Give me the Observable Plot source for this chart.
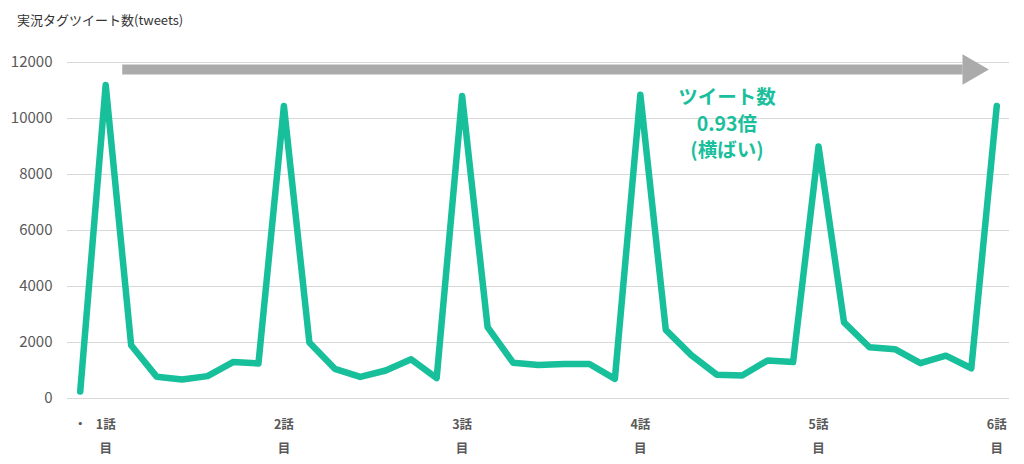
<!DOCTYPE html>
<html>
<head>
<meta charset="utf-8">
<script src="https://cdn.jsdelivr.net/npm/d3@7"></script>
<script src="https://cdn.jsdelivr.net/npm/@observablehq/plot@0.6"></script>
<style>
  body { margin: 0; background: #fff; font-family: "Noto Sans CJK JP", "Noto Sans", sans-serif; }
  #title { height: 40px; line-height: 40px; padding-left: 17px; font-size: 13px; color: #333; }
  #chart svg { display: block; }
</style>
</head>
<body>
<div id="title">実況タグツイート数(tweets)</div>
<div id="chart"></div>
<script>
// daily tweet counts (index 0 = day before episode 1)
const days = d3.range(37);
const tweets = [
  250, 11200, 1900, 780, 680, 800, 1300, 1250,
  10450, 2000, 1060, 770, 1000, 1400, 730,
  10800, 2550, 1280, 1200, 1230, 1230, 700,
  10850, 2450, 1550, 850, 820, 1360, 1300,
  9000, 2720, 1830, 1760, 1260, 1530, 1080,
  10450
];
const tickDays = [0, 1, 8, 15, 22, 29, 36];
const tickLabels = ["・", "1話\n目", "2話\n目", "3話\n目", "4話\n目", "5話\n目", "6話\n目"];
const yTicks = [0, 2000, 4000, 6000, 8000, 10000, 12000];
const arrowStart = [1.65];
const arrowEnd = [34.66];
const arrowHead = [35.0];
const arrowLevel = 11750;
const noteLines = ["ツイート数", "0.93倍", "(横ばい)"];
const noteDay = 25.4;
const noteLevels = [10740, 9790, 8850];

const data = days.map((d, i) => ({day: d, tweets: tweets[i]}));
const labelOf = new Map(tickDays.map((d, i) => [d, tickLabels[i]]));

const chart = Plot.plot({
  width: 1024,
  height: 424,
  marginLeft: 67,
  marginRight: 15,
  marginTop: 22,
  marginBottom: 66,
  style: {fontFamily: '"Noto Sans CJK JP", "Noto Sans", sans-serif', background: "#fff"},
  x: {domain: [-0.5, 36.5], axis: null},
  y: {domain: [0, 12000], axis: null},
  marks: [
    Plot.gridY(yTicks, {stroke: "#d9d9d9", strokeOpacity: 1, strokeWidth: 1}),
    Plot.axisY(yTicks, {tickSize: 0, tickPadding: 15, fontSize: 15, fill: "#595959", label: null, tickFormat: d => String(d)}),
    Plot.axisX(tickDays, {tickSize: 0, tickPadding: 13, fontSize: 12.5, fontWeight: "bold", fill: "#595959", lineHeight: 1.95, label: null, tickFormat: d => labelOf.get(d)}),
    Plot.link(arrowStart, {x1: d => d, x2: (d, i) => arrowEnd[i], y1: arrowLevel, y2: arrowLevel, stroke: "#ababab", strokeWidth: 10}),
    Plot.dot(arrowHead, {x: d => d, y: arrowLevel, symbol: "triangle", r: 11.3, rotate: 90, fill: "#ababab", stroke: "none"}),
    Plot.line(data, {x: "day", y: "tweets", stroke: "#17bf9b", strokeWidth: 6.5, strokeLinejoin: "round", strokeLinecap: "round"}),
    Plot.text(noteLines, {x: noteDay, y: (d, i) => noteLevels[i], text: d => d, fill: "#1bbf9c", fontSize: 19.5, fontWeight: "bold"})
  ]
});
document.getElementById("chart").appendChild(chart);
</script>
</body>
</html>
